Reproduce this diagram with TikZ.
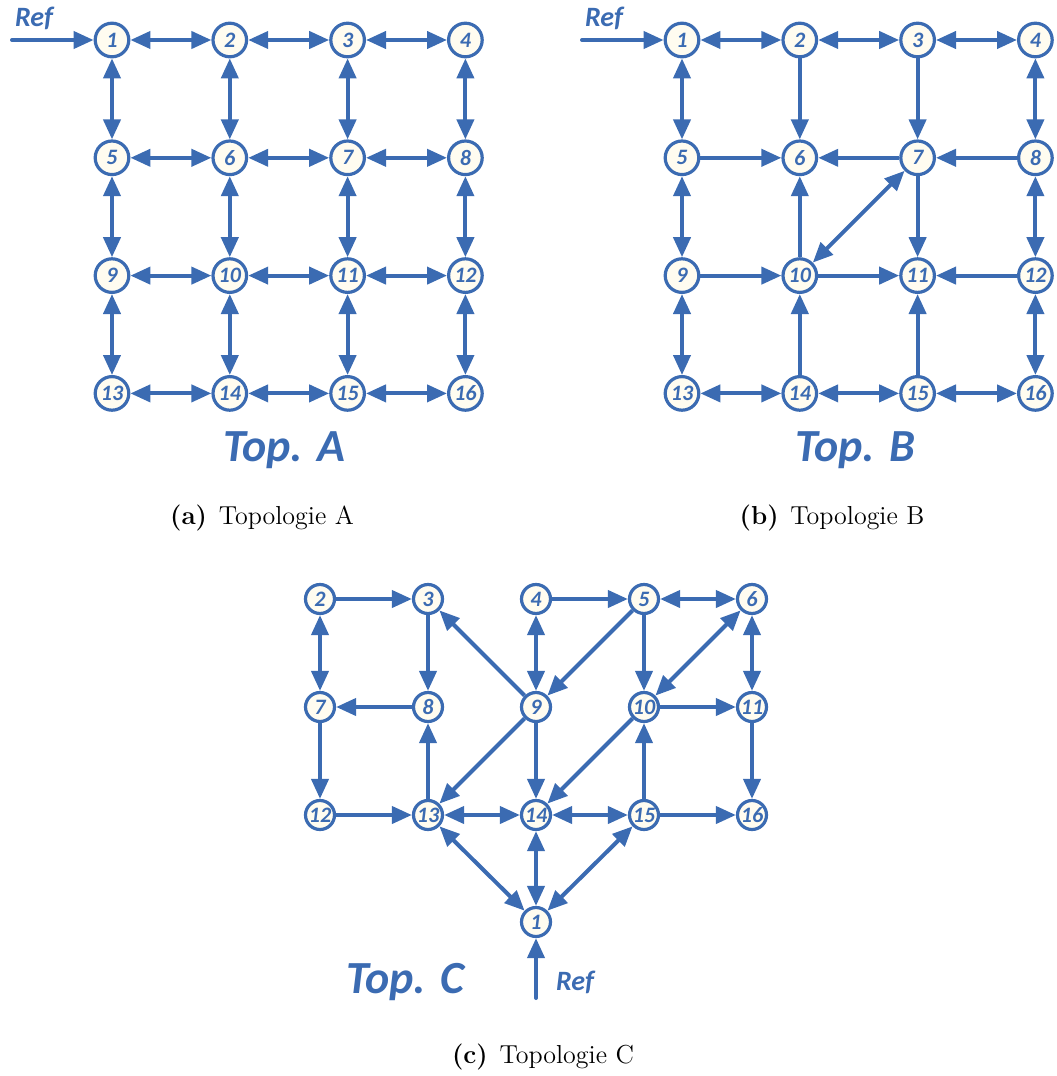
\documentclass[tikz,border=0pt]{standalone}
\usepackage{fontspec}
\usetikzlibrary{arrows.meta}
\newfontfamily\carl{Carlito}
\definecolor{netblue}{RGB}{59,107,178}
\definecolor{knotfill}{RGB}{255,252,240}
\begin{document}
\begin{tikzpicture}[x=0.5pt,y=-0.5pt,
	knot/.style={circle,draw=netblue,fill=knotfill,line width=1.6pt,minimum size=16.8pt,inner sep=0pt,text=netblue,font=\carl\bfseries\itshape\fontsize{11}{11}\selectfont},
	knotc/.style={knot,minimum size=14.5pt,font=\carl\bfseries\itshape\fontsize{11}{11}\selectfont},
	link/.style={draw=netblue,line width=2pt},
	oneway/.style={link,-{Triangle[length=10pt,width=8.5pt]}},
	twoway/.style={link,{Triangle[length=10pt,width=8.5pt]}-{Triangle[length=10pt,width=8.5pt]}},
	toplbl/.style={text=netblue,font=\carl\bfseries\itshape\fontsize{23}{23}\selectfont},
	reflbl/.style={text=netblue,font=\carl\bfseries\itshape\fontsize{14}{14}\selectfont},
	subcap/.style={font=\fontsize{13}{15}\selectfont}]
\useasboundingbox (0,0) rectangle (1056,1076);
\def\ax{112};
\def\bx{682};
\def\ay{40};
\def\gap{117.8};
\foreach \i in {1,...,16}{
	\pgfmathtruncatemacro{\col}{mod(\i-1,4)}
	\pgfmathtruncatemacro{\row}{div(\i-1,4)}
	\node[knot] (a\i) at ({\ax+\col*\gap},{\ay+\row*\gap}) {\i};
	\node[knot] (b\i) at ({\bx+\col*\gap},{\ay+\row*\gap}) {\i};
}
	\foreach \r in {0,...,3} \foreach \c in {1,2,3}{
		\pgfmathtruncatemacro{\u}{4*\r+\c}
		\pgfmathtruncatemacro{\v}{\u+1}
		\draw[twoway] (a\u) -- (a\v);
	}
	\foreach \u in {1,...,12}{
		\pgfmathtruncatemacro{\v}{\u+4}
		\draw[twoway] (a\u) -- (a\v);
	}
	\coordinate (refA) at (12,\ay);
	\draw[oneway,line cap=round] (refA) -- (a1);
	\node[reflbl] (refAlbl) at (34,18) {Ref};
	\node[toplbl] (topA) at (284,450) {Top. A};
	\node[subcap] (capA) at (262,518) {\textbf{(a)}\hspace{0.45em}Topologie A};
	\foreach \u/\v/\t in {1/2/twoway,2/3/twoway,3/4/twoway,1/5/twoway,2/6/oneway,3/7/oneway,4/8/twoway,
		5/6/oneway,7/6/oneway,8/7/oneway,5/9/twoway,10/6/oneway,7/10/twoway,7/11/oneway,8/12/twoway,
		9/10/oneway,10/11/oneway,12/11/oneway,9/13/twoway,14/10/oneway,15/11/oneway,12/16/twoway,
		13/14/twoway,14/15/twoway,15/16/twoway}
		\draw[\t] (b\u) -- (b\v);
	\coordinate (refB) at (582,\ay);
	\draw[oneway,line cap=round] (refB) -- (b1);
	\node[reflbl] (refBlbl) at (604,18) {Ref};
	\node[toplbl] (topB) at (855,450) {Top. B};
	\node[subcap] (capB) at (832,518) {\textbf{(b)}\hspace{0.45em}Topologie B};
\def\cx{320};
\def\cy{599};
\def\cgap{108};
\foreach \i in {2,...,16}{
	\pgfmathtruncatemacro{\col}{mod(\i-2,5)}
	\pgfmathtruncatemacro{\row}{div(\i-2,5)}
	\node[knotc] (c\i) at ({\cx+\col*\cgap},{\cy+\row*\cgap}) {\i};
}
	\node[knotc] (c1) at (536,922) {1};
	\foreach \u/\v/\t in {2/3/oneway,4/5/oneway,5/6/twoway,2/7/twoway,3/8/oneway,9/3/oneway,4/9/twoway,
		5/9/oneway,5/10/oneway,10/6/twoway,6/11/twoway,8/7/oneway,10/11/oneway,7/12/oneway,13/8/oneway,
		9/13/oneway,9/14/oneway,10/14/oneway,15/10/oneway,11/16/oneway,12/13/oneway,13/14/twoway,
		14/15/twoway,15/16/oneway,1/13/twoway,1/14/twoway,1/15/twoway}
		\draw[\t] (c\u) -- (c\v);
	\coordinate (refC) at (536,998);
	\draw[oneway,line cap=round] (refC) -- (c1);
	\node[reflbl] (refClbl) at (575,982) {Ref};
	\node[toplbl] (topC) at (405,982) {Top. C};
	\node[subcap] (capC) at (543,1057) {\textbf{(c)}\hspace{0.45em}Topologie C};
\end{tikzpicture}
\end{document}
